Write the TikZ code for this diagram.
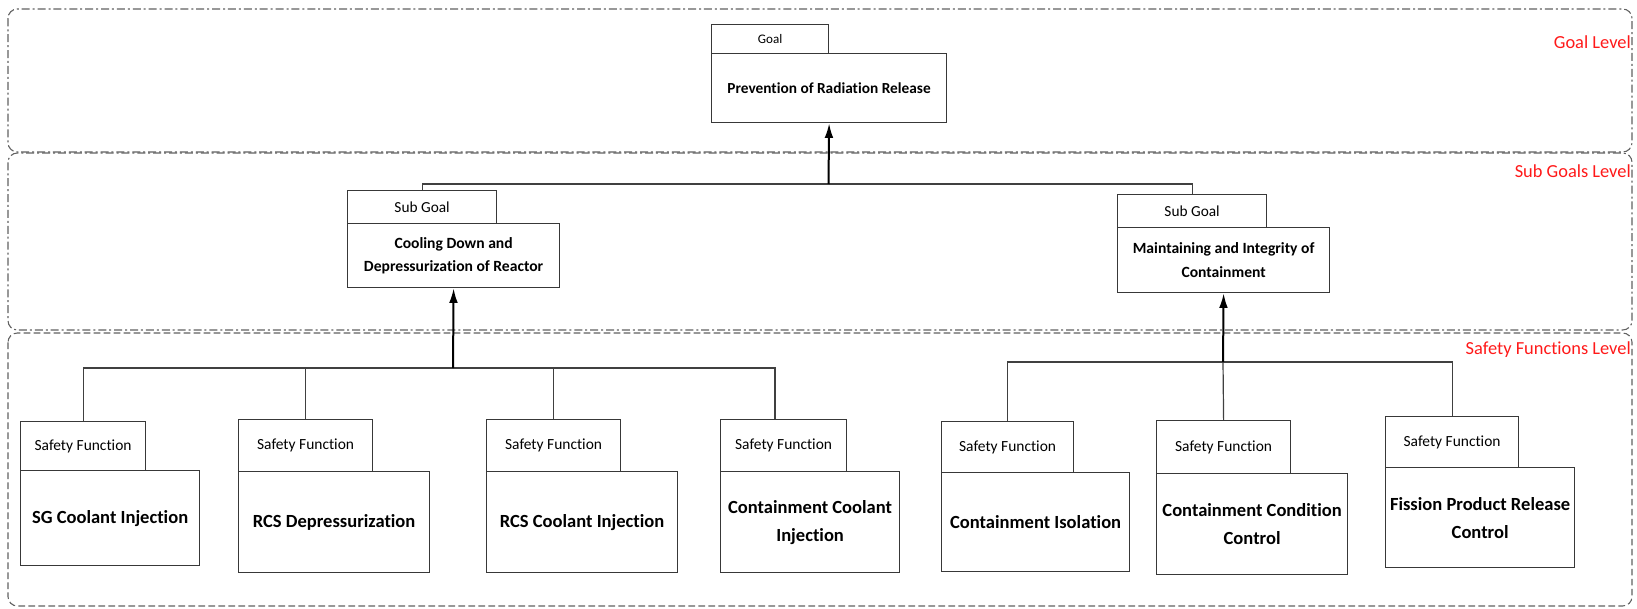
\documentclass[tikz,border=0pt]{standalone}
\usepackage{fontspec}
\setmainfont{Carlito}[Ligatures=NoCommon]
\usetikzlibrary{arrows.meta}
% one drawing unit (pixel-like grid)
\newdimen\pxu \pxu=0.75pt
\tikzset{
  x=0.75pt, y=-0.75pt,
  levelframe/.style={draw=black!62, line width=0.8pt, rounded corners=7pt},
  dashdotline/.style={dash pattern=on 6pt off 2.2pt on 1.5pt off 2.2pt},
  dashline/.style={dash pattern=on 5pt off 2.5pt},
  levellabel/.style={anchor=east, inner sep=0pt, text=red!90!white, font=\fontsize{13.8}{15}\selectfont},
  boxbase/.style={draw=black!78, line width=0.9pt, anchor=north west, inner sep=0pt, align=center, fill=white},
  goaltab/.style={boxbase, font=\fontsize{9.8}{11}\selectfont},
  goalmain/.style={boxbase, font=\bfseries\fontsize{11.5}{13}\selectfont},
  subtab/.style={boxbase, font=\fontsize{11.5}{13}\selectfont},
  submain/.style={boxbase, font=\bfseries\fontsize{11.7}{17.5}\selectfont},
  sftab/.style={boxbase, font=\fontsize{11.6}{13}\selectfont},
  sfmain/.style={boxbase, font=\bfseries\fontsize{13.9}{21}\selectfont},
  conn/.style={draw=black!75, line width=0.9pt},
  uparrow/.style={draw=black, line width=1.5pt, -{Latex[length=11pt,width=6.5pt]}},
}
\begin{document}
\begin{tikzpicture}
\useasboundingbox (0,0) rectangle (1637,609);

% level frames
\draw[levelframe, dashline] (8,333) rectangle (1632,606);
\draw[levelframe, dashdotline] (8,153) rectangle (1632,330);
\draw[levelframe, dashdotline] (8,9) rectangle (1632,152);

\node[levellabel] (lvgoal) at (1631,42) {Goal Level};
\node[levellabel] (lvsub) at (1631,171) {Sub Goals Level};
\node[levellabel] (lvsf) at (1631,350) {Safety Functions Level};

% goal
\node[goaltab, minimum width=117\pxu, minimum height=29\pxu] (gt) at (711,24) {Goal};
\node[goalmain, minimum width=235\pxu, minimum height=69\pxu] (gm) at (711,53) {Prevention of Radiation Release};

% sub goals
\node[subtab, minimum width=149\pxu, minimum height=33\pxu] (s1t) at (347,190) {Sub Goal};
\node[submain, minimum width=212\pxu, minimum height=64\pxu] (s1m) at (347,223) {Cooling Down and\\Depressurization of Reactor};
\node[subtab, minimum width=149\pxu, minimum height=33\pxu] (s2t) at (1117,194) {Sub Goal};
\node[submain, minimum width=212\pxu, minimum height=65\pxu] (s2m) at (1117,227) {Maintaining and Integrity of\\Containment};

% safety functions
\node[sftab, minimum width=125\pxu, minimum height=49\pxu] (f1t) at (20,421) {Safety Function};
\node[sfmain, minimum width=179\pxu, minimum height=95\pxu] (f1m) at (20,470) {SG Coolant Injection};
\node[sftab, minimum width=134\pxu, minimum height=52\pxu] (f2t) at (238,419) {Safety Function};
\node[sfmain, minimum width=191\pxu, minimum height=101\pxu] (f2m) at (238,471) {RCS Depressurization};
\node[sftab, minimum width=134\pxu, minimum height=52\pxu] (f3t) at (486,419) {Safety Function};
\node[sfmain, minimum width=191\pxu, minimum height=101\pxu] (f3m) at (486,471) {RCS Coolant Injection};
\node[sftab, minimum width=126\pxu, minimum height=52\pxu] (f4t) at (720,419) {Safety Function};
\node[sfmain, minimum width=179\pxu, minimum height=101\pxu] (f4m) at (720,471) {Containment Coolant\\Injection};
\node[sftab, minimum width=132\pxu, minimum height=51\pxu] (f5t) at (941,421) {Safety Function};
\node[sfmain, minimum width=188\pxu, minimum height=99\pxu] (f5m) at (941,472) {Containment Isolation};
\node[sftab, minimum width=134\pxu, minimum height=53\pxu] (f6t) at (1156,420) {Safety Function};
\node[sfmain, minimum width=191\pxu, minimum height=101\pxu] (f6m) at (1156,473) {Containment Condition\\Control};
\node[sftab, minimum width=133\pxu, minimum height=51\pxu] (f7t) at (1385,416) {Safety Function};
\node[sfmain, minimum width=189\pxu, minimum height=100\pxu] (f7m) at (1385,467) {Fission Product Release\\Control};

% bus junctions
\coordinate (gbus) at (828.5,184);
\coordinate (lbus) at (453,368);
\coordinate (rbus) at (1223,362);
\coordinate (f4in) at (775,419);

% goal tree
\draw[conn] (s1t.north) |- (gbus) -| (s2t.north);
\draw[uparrow] (gbus) -- (gm.south);

% left sub-goal tree
\draw[conn] (f1t.north) |- (lbus) -| (f4in);
\draw[conn] (f2t.north) -- (f2t.north |- lbus);
\draw[conn] (f3t.north) -- (f3t.north |- lbus);
\draw[uparrow] (lbus) -- (s1m.south);

% right sub-goal tree
\draw[conn] (f5t.north) |- (rbus) -| (f7t.north);
\draw[conn] (f6t.north) -- (rbus);
\draw[uparrow] (rbus) -- (s2m.south);
\end{tikzpicture}
\end{document}
